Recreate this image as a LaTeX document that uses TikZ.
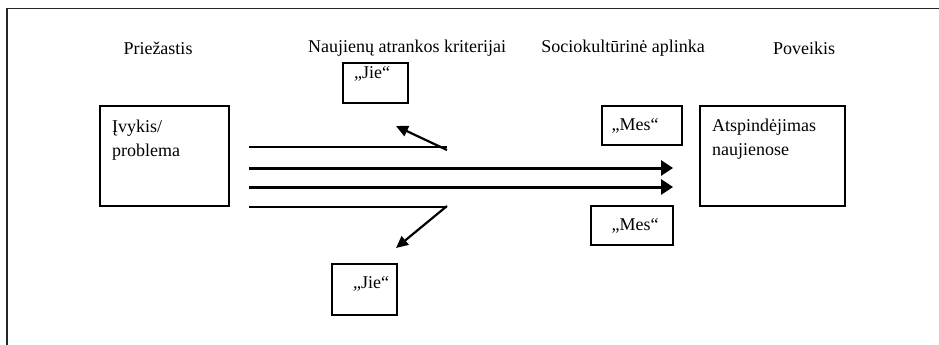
\documentclass[tikz,border=0pt]{standalone}
\usepackage{fontspec}
\setmainfont{Liberation Serif}
\usetikzlibrary{arrows.meta}
\begin{document}
\begin{tikzpicture}[x=1pt,y=-1pt,
  box/.style={draw, line width=1.5pt, inner sep=0pt},
  hdr/.style={font=\fontsize{18}{21}\selectfont, inner sep=0pt, anchor=center},
  txt/.style={font=\fontsize{18}{24}\selectfont, inner sep=0pt},
  thinline/.style={line width=1.5pt},
  thickline/.style={line width=3pt, -{Triangle[length=12pt,width=15pt]}},
  diag/.style={line width=2.2pt, -{Triangle[length=12pt,width=11pt]}}]
\useasboundingbox (0,0) rectangle (939,345);
% frame
\coordinate (fbl) at (7,346);
\coordinate (ftl) at (7,8.5);
\coordinate (ftr) at (940,8.5);
\draw[line width=1.6pt, black!85] (fbl) -- (ftl) -- (ftr);
% headers
\node[hdr] (h1) at (158,48) {Priežastis};
\node[hdr] (h2) at (407,48) {Naujienų atrankos kriterijai};
\node[hdr] (h3) at (623,48) {Sociokultūrinė aplinka};
\node[hdr] (h4) at (804,48) {Poveikis};
% boxes
\draw[box] (100,106) rectangle (229,206);
\node[txt, anchor=north west, align=left] (ivykis) at (112,120) {Įvykis/\\problema};
\draw[box] (700,106) rectangle (845,206);
\node[txt, anchor=north west, align=left] (atsp) at (712,119) {Atspindėjimas\\naujienose};
\draw[box] (343,63) rectangle (408,103);
\node[txt] (jie1) at (372,74) {„Jie“};
\draw[box] (332,264) rectangle (397,315);
\node[txt] (jie2) at (371,284) {„Jie“};
\draw[box] (602,106) rectangle (682,145);
\node[txt] (mes1) at (635,126) {„Mes“};
\draw[box] (591,206) rectangle (673,245);
\node[txt] (mes2) at (635,226) {„Mes“};
% lines
\coordinate (l1a) at (249,147); \coordinate (l1b) at (447,147);
\coordinate (l2a) at (249,168); \coordinate (l2b) at (673,168);
\coordinate (l3a) at (249,187); \coordinate (l3b) at (673,187);
\coordinate (l4a) at (249,207); \coordinate (l4b) at (447,207);
\draw[thinline] (l1a) -- (l1b);
\draw[thickline] (l2a) -- (l2b);
\draw[thickline] (l3a) -- (l3b);
\draw[thinline] (l4a) -- (l4b);
\coordinate (d1a) at (447,150); \coordinate (d1b) at (396,126);
\coordinate (d2a) at (447,206); \coordinate (d2b) at (396,248);
\draw[diag] (d1a) -- (d1b);
\draw[diag] (d2a) -- (d2b);
\end{tikzpicture}
\end{document}
